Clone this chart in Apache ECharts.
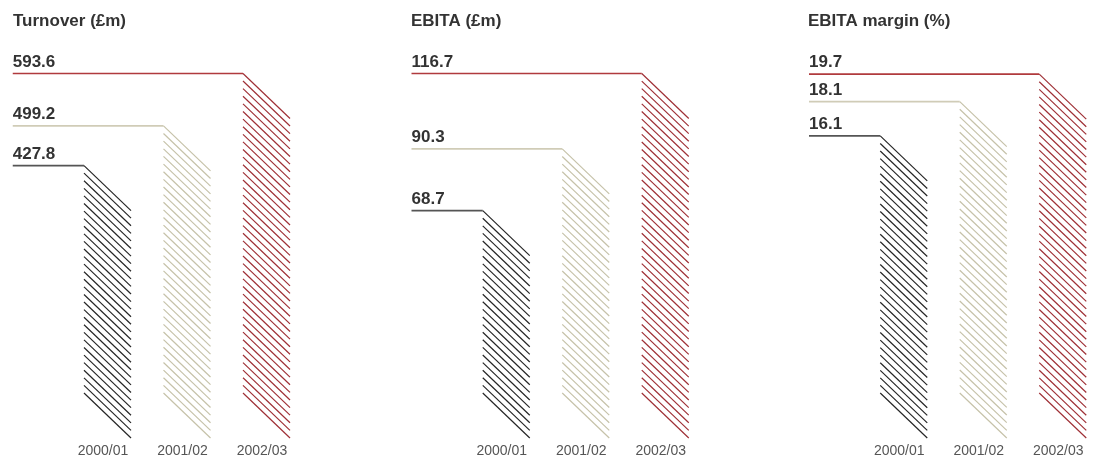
<!DOCTYPE html>
<html>
<head>
<meta charset="utf-8">
<title>Turnover, EBITA and EBITA margin</title>
<script src="https://cdn.jsdelivr.net/npm/echarts@6/dist/echarts.min.js"></script>
<style>
  html, body { margin: 0; padding: 0; background: #fff; }
  #chart { width: 1095px; height: 458px; }
</style>
</head>
<body>
<div id="chart"></div>
<script>
// Financial years shown on every panel
const years = ['2000/01', '2001/02', '2002/03'];

// Panel values, one entry per year
const turnover = [427.8, 499.2, 593.6];
const ebita = [68.7, 90.3, 116.7];
const ebitaMargin = [16.1, 18.1, 19.7];

const panelTitles = ['Turnover (£m)', 'EBITA (£m)', 'EBITA margin (%)'];
const panelValues = [turnover, ebita, ebitaMargin];
const panelMax = [700, 140, 24];

// Layout of the three panels
const panelLayout = [
  { left: 63.25, top: 14.3, bottom: 54.6, axisOffset: 34.6, titleX: 8 },
  { left: 462,   top: 6.9,  bottom: 51.1, axisOffset: 31.1, titleX: 406 },
  { left: 859.5, top: 0.4,  bottom: 46,   axisOffset: 26,   titleX: 803 }
];

const hatchColors = ['#262626', '#c6c2a9', '#9f3036'];
const ruleColors = ['#555555', '#d0ccb7', '#b03a3d'];
const FONT = '"Liberation Sans", Arial, Helvetica, sans-serif';

const BASE_Y = 393;     // lower-left corner of every hatched block
const SLANT = 45;       // vertical drop across a block's width
const STEP = 7.6;       // gap between hatch lines
const LABEL_GAP = 50.5; // distance from grid edge back to the value label

function renderBlock(params, api) {
  const idx = api.value(0);
  const v = api.value(1);
  const pt = api.coord([idx, v]);
  const x0 = pt[0] - 19;
  const x1 = pt[0] + 28;
  const yTop = pt[1];
  const cs = params.coordSys;
  const startX = cs.x - LABEL_GAP;
  const children = [];

  const n = Math.max(1, Math.round((BASE_Y - yTop) / STEP));
  const step = (BASE_Y - yTop) / n;
  for (let k = 0; k <= n; k++) {
    const y = yTop + k * step;
    children.push({
      type: 'line',
      shape: { x1: x0, y1: y, x2: x1, y2: y + SLANT },
      style: { stroke: hatchColors[idx], lineWidth: 1.2 }
    });
  }
  children.push({
    type: 'line',
    shape: { x1: startX, y1: yTop, x2: x0, y2: yTop },
    style: { stroke: ruleColors[idx], lineWidth: 1.6 }
  });
  children.push({
    type: 'text',
    style: {
      x: startX,
      y: yTop - 3,
      text: v.toFixed(1),
      fill: '#333',
      font: 'bold 17px ' + FONT,
      textAlign: 'left',
      textVerticalAlign: 'bottom'
    }
  });
  return { type: 'group', children: children };
}

const option = {
  animation: false,
  title: panelTitles.map((t, i) => ({
    text: t,
    left: panelLayout[i].titleX,
    top: 8,
    textStyle: { fontSize: 17, fontWeight: 'bold', color: '#333', fontFamily: FONT }
  })),
  grid: panelLayout.map(p => ({
    left: p.left,
    width: 238.5,
    top: p.top,
    bottom: p.bottom,
    outerBoundsMode: 'none'
  })),
  xAxis: panelLayout.map((p, i) => ({
    type: 'category',
    gridIndex: i,
    data: years,
    offset: p.axisOffset,
    axisLine: { show: false },
    axisTick: { show: false },
    splitLine: { show: false },
    axisLabel: { color: '#555', fontSize: 14, margin: 6, fontFamily: FONT, interval: 0 }
  })),
  yAxis: panelLayout.map((p, i) => ({
    type: 'value',
    gridIndex: i,
    min: 0,
    max: panelMax[i],
    show: false
  })),
  series: panelValues.map((vals, i) => ({
    type: 'custom',
    xAxisIndex: i,
    yAxisIndex: i,
    renderItem: renderBlock,
    data: vals.map((v, j) => [j, v])
  }))
};

const chart = echarts.init(document.getElementById('chart'), null, { renderer: 'canvas' });
chart.setOption(option);
</script>
</body>
</html>
